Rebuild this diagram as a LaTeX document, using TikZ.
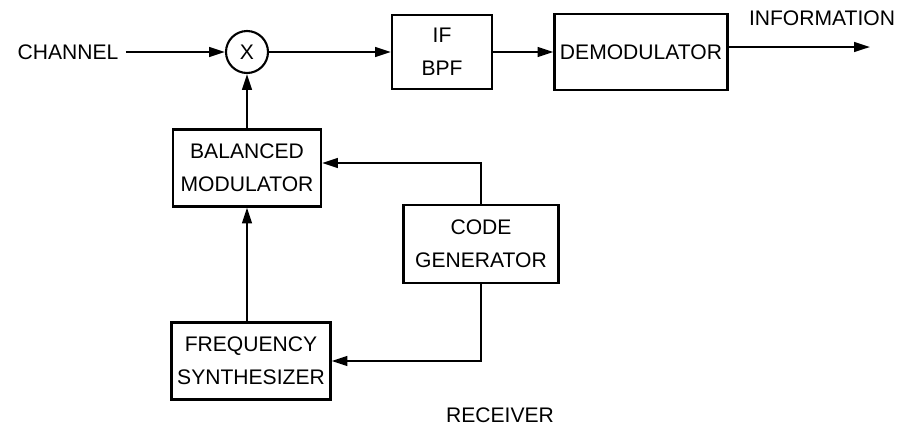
\documentclass[tikz,border=0pt]{standalone}
\usepackage{fontspec}
\setmainfont{Liberation Sans}
\usepackage{tikz}
\usetikzlibrary{arrows.meta, positioning}

\begin{document}
\begin{tikzpicture}[
  x=0.02cm, y=-0.02cm,
  font=\fontsize{12}{19}\selectfont,
  block/.style={
    draw=black,
    line width=1.2pt,
    align=center,
    inner sep=2pt
  },
  mixer/.style={
    draw=black,
    circle,
    line width=1.2pt,
    minimum size=0.84cm,
    inner sep=0pt
  },
  label/.style={
    align=center,
    inner sep=4pt
  },
  link/.style={
    line width=1.2pt,
    -{Triangle[length=9pt,width=5.5pt]}
  }
]

\useasboundingbox (0,0) rectangle (908,430);

% -------------------------------------------------------------------
% forward path
% -------------------------------------------------------------------
\node[label] (chan) at (68,52) {CHANNEL};
\node[mixer] (mix) at (247,52) {X};
\node[block, minimum width=2.0cm, minimum height=1.48cm] (ifbpf) at (442,52)
{IF\\BPF};
\node[block, minimum width=3.46cm, minimum height=1.52cm] (demod) at (641,52)
{DEMODULATOR};
\node[label] (info) at (822,18) {INFORMATION};
\coordinate (out) at (870,47);

% -------------------------------------------------------------------
% local reference
% -------------------------------------------------------------------
\node[block, minimum width=2.96cm, minimum height=1.54cm] (balmod) at (247,168)
{BALANCED\\MODULATOR};
\node[block, minimum width=3.1cm, minimum height=1.56cm] (codegen) at (481,244)
{CODE\\GENERATOR};
\node[block, minimum width=3.18cm, minimum height=1.54cm] (freqsyn) at (251,361)
{FREQUENCY\\SYNTHESIZER};

\node[label] (rcvr) at (500,415) {RECEIVER};

% Connections
\draw[link] (chan.east) -- (mix.west);
\draw[link] (mix.east) -- (ifbpf.west);
\draw[link] (ifbpf.east) -- (demod.west);
\draw[link] (demod.east |- out) -- (out);
\draw[link] (balmod.north) -- (mix.south);
\draw[link] (codegen.north) |- ([yshift=1mm]balmod.east);
\draw[link] (codegen.south) |- (freqsyn.east);
\draw[link] (freqsyn.north -| balmod.south) -- (balmod.south);

\end{tikzpicture}
\end{document}
